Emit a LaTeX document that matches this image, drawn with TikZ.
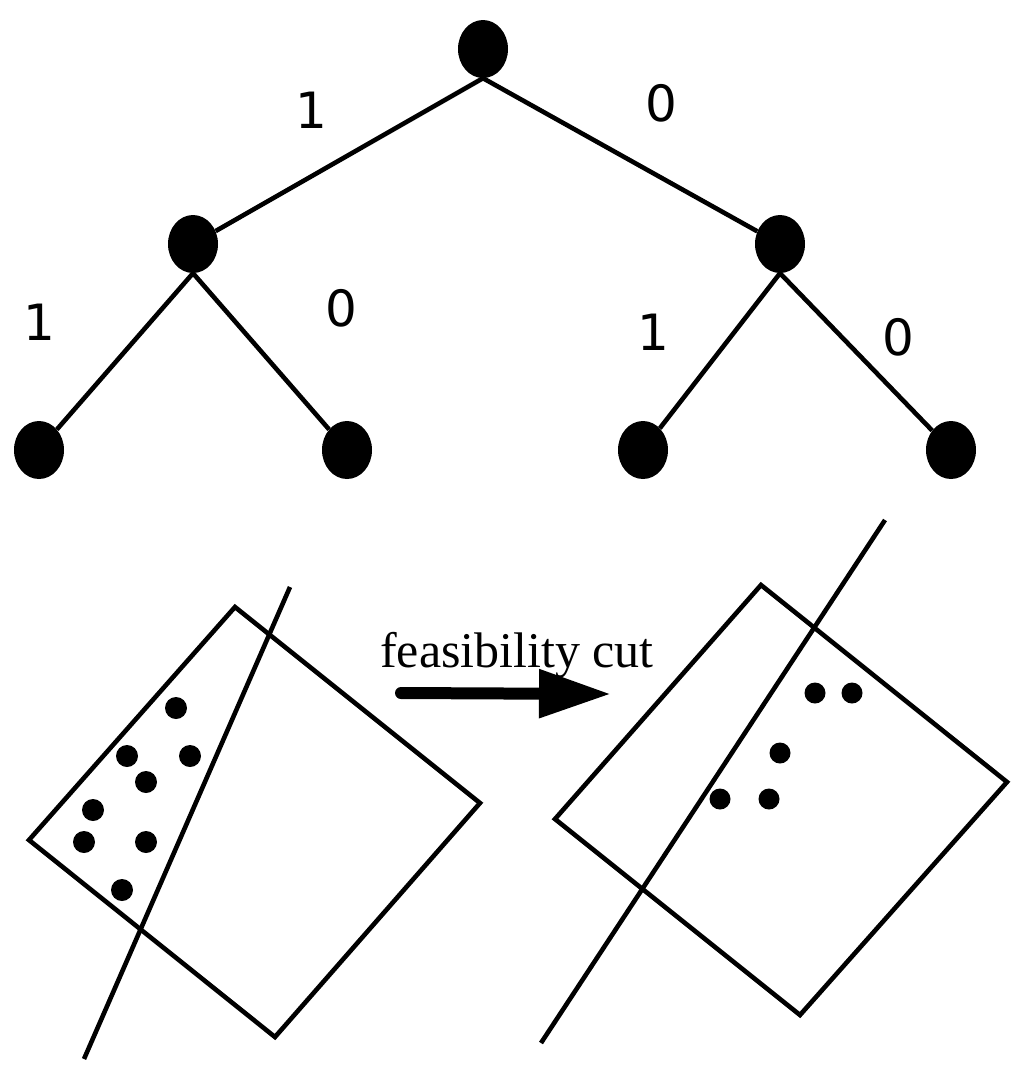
\documentclass[tikz,border=0pt]{standalone}
\usepackage{fontspec}
\setmainfont{Liberation Serif}
\newfontfamily\digitfont{DejaVu Sans}
\usetikzlibrary{shapes.geometric,arrows.meta}

\tikzset{
  vertex/.style={ellipse, fill=black, inner sep=0pt, minimum width=50pt, minimum height=58pt},
  branch/.style={line width=4.6pt},
  bit/.style={font=\digitfont\fontsize{50}{60}\selectfont, inner sep=0pt},
  region/.style={line width=4.6pt, line join=miter}
}

\begin{document}
\begin{tikzpicture}[x=1pt,y=-1pt]
  \useasboundingbox (0,0) rectangle (1024,1072);

  % Tree nodes
  \node[vertex] (root) at (483,49) {};
  \node[vertex] (n1) at (193,244) {};
  \node[vertex] (n0) at (780,244) {};
  \node[vertex] (n11) at (39,450) {};
  \node[vertex] (n10) at (347,450) {};
  \node[vertex] (n01) at (643,450) {};
  \node[vertex] (n00) at (951,450) {};

  % Branches
  \draw[branch] (root.south) -- (n1);
  \draw[branch] (root.south) -- (n0);
  \draw[branch] (n1.south) -- (n11);
  \draw[branch] (n1.south) -- (n10);
  \draw[branch] (n0.south) -- (n01);
  \draw[branch] (n0.south) -- (n00);

  % Branch labels
  \node[bit] (b1) at (311,110) {1};
  \node[bit] (b0) at (661,103) {0};
  \node[bit] (b11) at (39,322) {1};
  \node[bit] (b10) at (341,308) {0};
  \node[bit] (b01) at (653,332) {1};
  \node[bit] (b00) at (898,337) {0};

  % Box before the cut
  \draw[region] (235,607) -- (480,803) -- (275,1037) -- (29,840) -- cycle;
  \draw[branch] (290,587) -- (84,1059);
  \foreach \x/\y in {176/708, 127/756, 190/756, 146/782, 93/810, 84/842, 146/842, 122/890}
    \fill (\x,\y) circle (11pt);

  % Feasibility cut
  \coordinate (cutstart) at (401,693);
  \coordinate (cutend) at (611,694);
  \draw[line width=12pt, line cap=round, -{Triangle[length=72pt,width=46pt]}] (cutstart) -- (cutend);
  \node[anchor=base west, inner sep=0pt, font=\fontsize{50}{60}\selectfont] (cutlabel) at (380,667) {feasibility cut};

  % Box after the cut
  \draw[region] (761,585) -- (1007,782) -- (800,1015) -- (555,819) -- cycle;
  \draw[branch] (885,520) -- (541,1043);
  \foreach \x/\y in {815/693, 852/693, 780/753, 720/799, 769/799}
    \fill (\x,\y) circle (10.5pt);

\end{tikzpicture}
\end{document}
